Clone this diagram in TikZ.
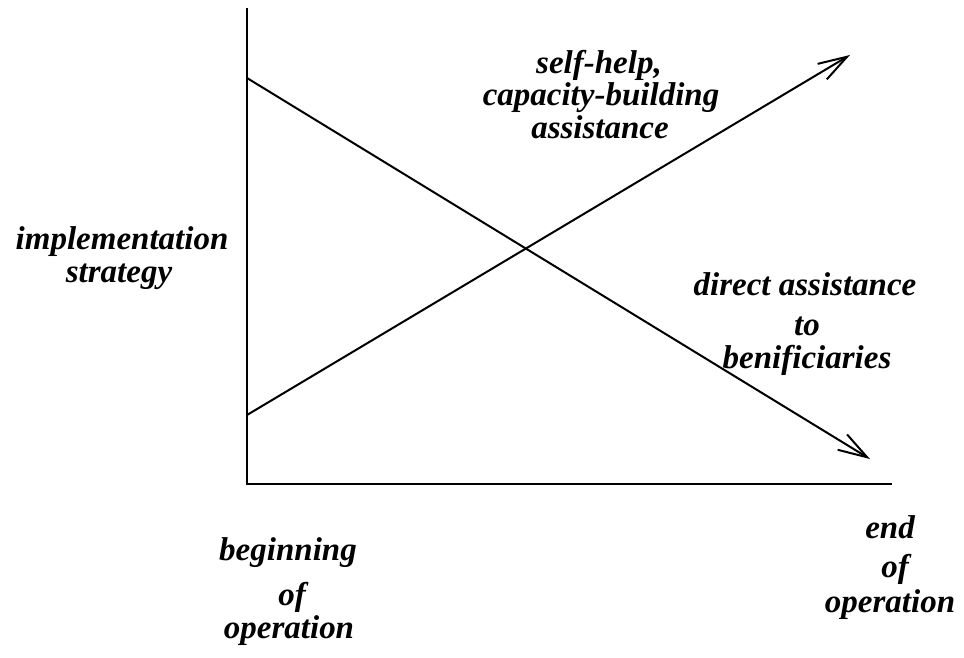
\documentclass[tikz,border=0pt]{standalone}
\usepackage{fontspec}
\setmainfont{Liberation Serif}
\usetikzlibrary{arrows.meta}
\begin{document}
\begin{tikzpicture}[x=1pt,y=-1pt,line width=2pt,
  lbl/.style={font=\fontsize{33}{34}\selectfont\bfseries\itshape,anchor=base,inner sep=0pt},
  arr/.style={-{Straight Barb[length=29pt,width=18pt,line width=2pt]}}]
\useasboundingbox (0,0) rectangle (964,657);
% axes
\coordinate (top) at (247,8);
\coordinate (origin) at (247,484);
\coordinate (xend) at (892,484);
\draw (top) -- (origin) -- (xend);
% lines
\coordinate (s1) at (247,415);
\coordinate (e1) at (850,55);
\coordinate (s2) at (247,78);
\coordinate (e2) at (870,459);
\draw[arr] (s1) -- (e1);
\draw[arr] (s2) -- (e2);
% labels
\node[lbl] (sh1) at (599,73) {self-help,};
\node[lbl] (sh2) at (601,105) {capacity-building};
\node[lbl] (sh3) at (600,138) {assistance};
\node[lbl] (is1) at (122,249) {implementation};
\node[lbl] (is2) at (119,282) {strategy};
\node[lbl] (da1) at (805,295) {direct assistance};
\node[lbl] (da2) at (807,335) {to};
\node[lbl] (da3) at (807,368) {benificiaries};
\node[lbl] (bo1) at (288,560) {beginning};
\node[lbl] (bo2) at (292,605) {of};
\node[lbl] (bo3) at (289,638) {operation};
\node[lbl] (eo1) at (890,538) {end};
\node[lbl] (eo2) at (895,577) {of};
\node[lbl] (eo3) at (890,612) {operation};
\end{tikzpicture}
\end{document}
